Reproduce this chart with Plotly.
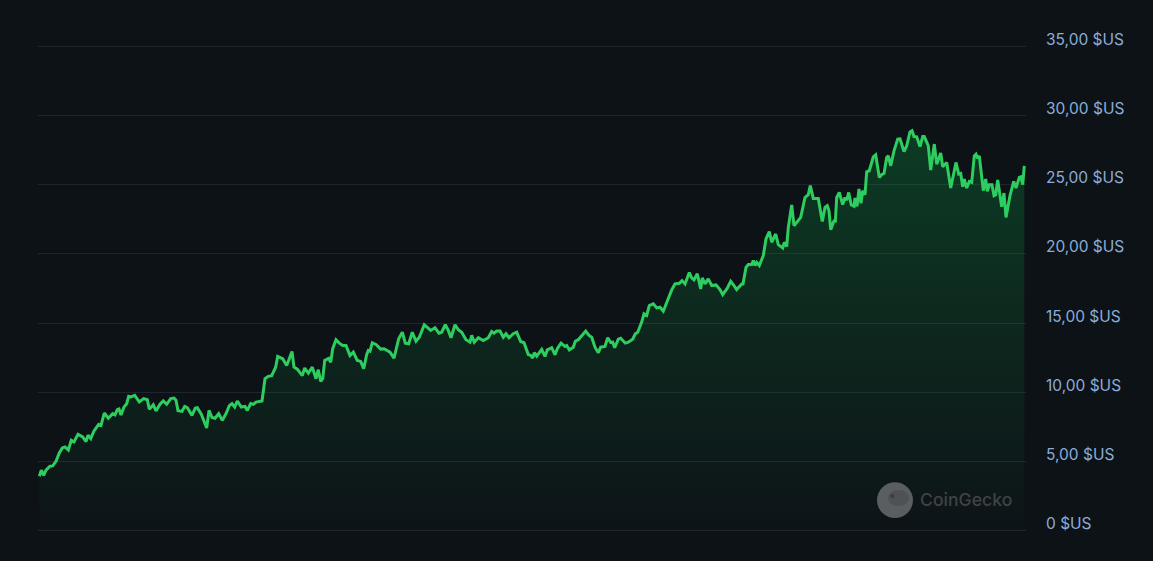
import plotly.graph_objects as go

# ---------- Data ----------
days = [
    1.3, 3.3, 5.7, 8, 12, 14.7, 18, 21.3, 24.3, 27, 30.3, 33.3, 36, 40, 44.7, 48, 50, 52.7, 56, 60.7,
    63, 66.3, 70.3, 74.7, 77, 79.3, 81, 83, 86, 88.7, 90.7, 93, 96.7, 101.3, 105.7, 109.3, 111.3, 115.3, 118, 122,
    125.3, 128.7, 132.7, 136, 138, 140, 144, 146.7, 149.3, 154, 157.3, 159.3, 163.3, 166, 168.7, 171, 174, 177, 180.7, 184.3,
    188, 191.3, 194, 196.7, 199.3, 203.3, 207, 209.3, 212.7, 215.3, 218, 224, 227, 230.3, 233.7, 237.7, 239.7, 244.7, 248.7, 254,
    256, 259.3, 264.3, 266.7, 270.3, 274.3, 278, 280.3, 282.7, 284.7, 286.7, 290.7, 292.7, 294.7, 298, 301.3,
    304.7, 308, 312, 315.3, 319.3, 322.7, 325.7, 328.7, 330.3, 332, 334.3, 338, 342.7, 346, 348.7, 352, 356, 360.7, 364.3, 367.3,
    370.7, 374.3, 378, 381.3, 386.3, 389.3, 392.7, 397, 401, 403.7, 407.3, 410.3, 413, 417, 420.3, 423.7, 428, 432, 433.7, 436.3,
    440.3, 445.3, 450.3, 453.7, 456, 458.7, 462, 465.3, 468, 471, 475.3, 478.7, 482.7, 486, 490.3, 492.7, 494.7, 496.3, 498.7, 503.7,
    507, 509.3, 513.7, 517, 519.3, 523, 527, 528.7, 531.3, 535.3, 537.3, 540.3, 544.3, 547.7, 551, 553.7, 557, 560.3, 562.7, 567,
    569.7, 572.7, 574.7, 576.7, 580.3, 582.7, 587.3, 590.3, 594.7, 597.3, 599.7, 603.7, 606, 608.7, 611.3, 615.3, 618.7, 622, 625.3, 630.3,
    633.7, 637, 641.3, 644, 647, 651.3, 653.7, 656, 659.3, 662.7, 664.3, 667, 670.3, 673.7, 678, 682, 684.7, 689.3, 692.7, 696,
    698.7, 703.7, 705, 708, 710.3, 713.7, 715.3, 717, 718.7, 721.3, 725.3, 728, 731.3, 733.7, 737.7, 740.3, 744.7, 746.3, 748.7, 750.3,
    753.7, 756, 760.3, 762.7, 767, 770.3, 772.3, 775.3, 780.3, 784.3, 787, 789.3, 791, 792.7, 796.3, 797.3, 798.7, 801.3, 804.7, 807,
    808.7, 810.7, 813.3, 816, 817, 819, 821, 823, 824.7, 827, 828.7, 831.3, 835.3, 837.7, 841.3, 844.3, 846, 848.7, 850.3, 852.7,
    856, 859.7, 862, 866, 868.7, 872, 874, 876, 878.7, 882, 884.7, 886.3, 890.3, 892.7, 896.3, 898.7, 902.7, 904.7, 908.7, 912.7,
    918, 920.7, 922.7, 924.7, 926.3, 928.7, 931.3, 933.7, 936.3, 938, 939.7, 941.3, 945.3, 947.7, 949.3, 951.3, 954, 956, 957.7, 959.7,
    963.7, 966, 968, 972, 975.7, 978, 981.3, 983, 984.7, 986.3,
]
prices = [
    3.93, 4.37, 4.00, 4.37, 4.65, 4.68, 5.01, 5.61, 5.97, 6.05, 5.83, 6.53, 6.41, 6.96, 6.77, 6.44, 6.89, 6.65, 7.20, 7.68,
    7.61, 8.50, 8.12, 8.45, 8.36, 8.74, 8.79, 8.36, 8.93, 9.17, 9.70, 9.66, 9.78, 9.30, 9.54, 9.46, 8.77, 9.10, 8.65, 9.13,
    9.37, 9.13, 9.54, 9.58, 9.42, 8.67, 8.62, 8.98, 8.89, 8.33, 8.86, 8.89, 8.41, 7.92, 7.42, 8.69, 8.17, 8.12, 8.45, 7.97,
    8.45, 9.03, 9.18, 8.93, 9.37, 8.93, 8.98, 8.69, 9.18, 9.13, 9.29, 9.37, 10.98, 11.15, 11.20, 11.82, 12.59, 12.42, 11.94, 12.95,
    11.82, 11.67, 11.20, 11.75, 11.39, 11.82, 10.98, 11.63, 10.79, 10.98, 12.30, 12.45, 12.16, 13.15, 13.80, 13.55,
    13.38, 13.38, 12.66, 12.90, 12.30, 12.23, 11.70, 12.73, 13.02, 12.97, 13.58, 13.46, 13.12, 13.15, 13.02, 12.90, 12.47, 13.87, 14.34, 13.55,
    13.51, 14.34, 13.69, 13.98, 14.88, 14.71, 14.47, 14.66, 14.27, 14.34, 14.88, 14.47, 13.94, 14.88, 14.52, 14.34, 13.80, 13.62, 14.11, 13.62,
    13.94, 13.74, 13.94, 14.39, 14.27, 14.42, 14.42, 13.98, 14.23, 13.94, 14.23, 14.34, 13.67, 13.58, 12.73, 12.66, 12.47, 12.86, 12.61, 13.10,
    12.59, 13.07, 13.22, 12.71, 13.15, 13.55, 13.31, 13.38, 13.07, 13.26, 13.69, 13.80, 14.11, 14.42, 14.11, 13.98, 13.26, 12.86, 13.26, 13.31,
    13.94, 13.60, 13.62, 13.22, 13.84, 13.91, 13.55, 13.62, 13.84, 14.23, 14.34, 15.07, 15.67, 15.55, 16.27, 16.39, 16.10, 16.15, 15.86, 16.75,
    17.40, 17.83, 17.88, 18.07, 17.83, 18.65, 18.27, 18.12, 18.56, 17.47, 18.27, 17.83, 18.20, 17.71, 17.76, 17.42, 17.06, 17.52, 18.02, 17.71,
    17.42, 17.83, 17.83, 19.03, 19.23, 19.23, 19.52, 19.16, 19.39, 19.16, 19.88, 21.08, 21.61, 20.84, 21.44, 20.67, 20.43, 20.84, 20.53, 21.92,
    23.54, 22.04, 22.45, 22.64, 24.08, 24.28, 24.93, 24.01, 24.01, 22.35, 23.36, 23.49, 23.12, 21.75, 22.45, 22.28, 24.08, 24.44, 23.56, 24.08,
    23.89, 24.44, 23.53, 23.44, 24.04, 23.44, 24.69, 23.65, 24.57, 24.28, 25.94, 26.01, 27.02, 27.16, 25.53, 25.77, 25.82, 26.97, 27.09, 26.37,
    27.45, 28.30, 28.32, 27.40, 27.81, 28.82, 28.90, 28.48, 28.46, 27.76, 28.48, 28.48, 27.81, 26.06, 27.94, 26.49, 27.29, 26.30, 26.61, 24.76,
    26.61, 25.77, 25.82, 24.86, 25.41, 24.76, 25.24, 25.17, 27.09, 27.21, 26.90, 27.09, 24.57, 25.41, 24.52, 25.00, 25.00, 24.21, 24.28, 25.34,
    23.41, 24.40, 22.64, 24.21, 25.24, 24.76, 25.53, 25.58, 25.00, 26.37,
]
tick_vals = [0, 5, 10, 15, 20, 25, 30, 35]
tick_text = ["0 $US", "5,00 $US", "10,00 $US", "15,00 $US", "20,00 $US", "25,00 $US", "30,00 $US", "35,00 $US"]

BG = "#0d1217"

fig = go.Figure()
fig.add_trace(go.Scatter(
    x=days, y=prices, mode="lines", fill="tozeroy",
    line=dict(color="#2dce5f", width=3),
    fillgradient=dict(type="vertical", start=0, stop=29,
                      colorscale=[[0, "rgba(12,170,70,0.01)"], [1, "rgba(12,170,70,0.27)"]]),
    showlegend=False, hoverinfo="skip",
))

# labels sit above their gridlines, so they go in as annotations
for val, label in zip(tick_vals, tick_text):
    fig.add_annotation(text=label, xref="paper", yref="y", x=1, y=val, xshift=18, yshift=7,
                       xanchor="left", yanchor="middle", showarrow=False,
                       font=dict(family="Inter", size=15.5, color="#8badd9"))

# watermark
fig.add_shape(type="circle", xref="paper", yref="paper", layer="above",
              x0=0.8492, x1=0.8856, y0=0.0285, y1=0.1024,
              fillcolor="#5a5e60", line_width=0)
fig.add_shape(type="circle", xref="paper", yref="paper", layer="above",
              x0=0.8603, x1=0.8816, y0=0.0532, y1=0.0860,
              fillcolor="#4e5254", line_width=0)
fig.add_shape(type="circle", xref="paper", yref="paper", layer="above",
              x0=0.8627, x1=0.8667, y0=0.0696, y1=0.0778,
              fillcolor="#3a3d3f", line_width=0)
fig.add_annotation(text="CoinGecko", xref="paper", yref="paper", x=0.8907, y=0.0675,
                   xanchor="left", yanchor="middle", showarrow=False,
                   font=dict(family="Inter", size=17.6, color="#3f4346", weight=500))

fig.update_layout(
    width=1153, height=561,
    margin=dict(l=38, r=127, t=44.6, b=29.1),
    paper_bgcolor=BG, plot_bgcolor=BG,
    xaxis=dict(range=[0, 988], visible=False),
    yaxis=dict(range=[-0.1, 35.1], tickvals=tick_vals, showticklabels=False,
               ticks="", showline=False, zeroline=False,
               gridcolor="#1e252d", gridwidth=1.2),
)

fig.write_html("out.html", config={"displayModeBar": False},
               post_script="document.body.style.margin='0'")
